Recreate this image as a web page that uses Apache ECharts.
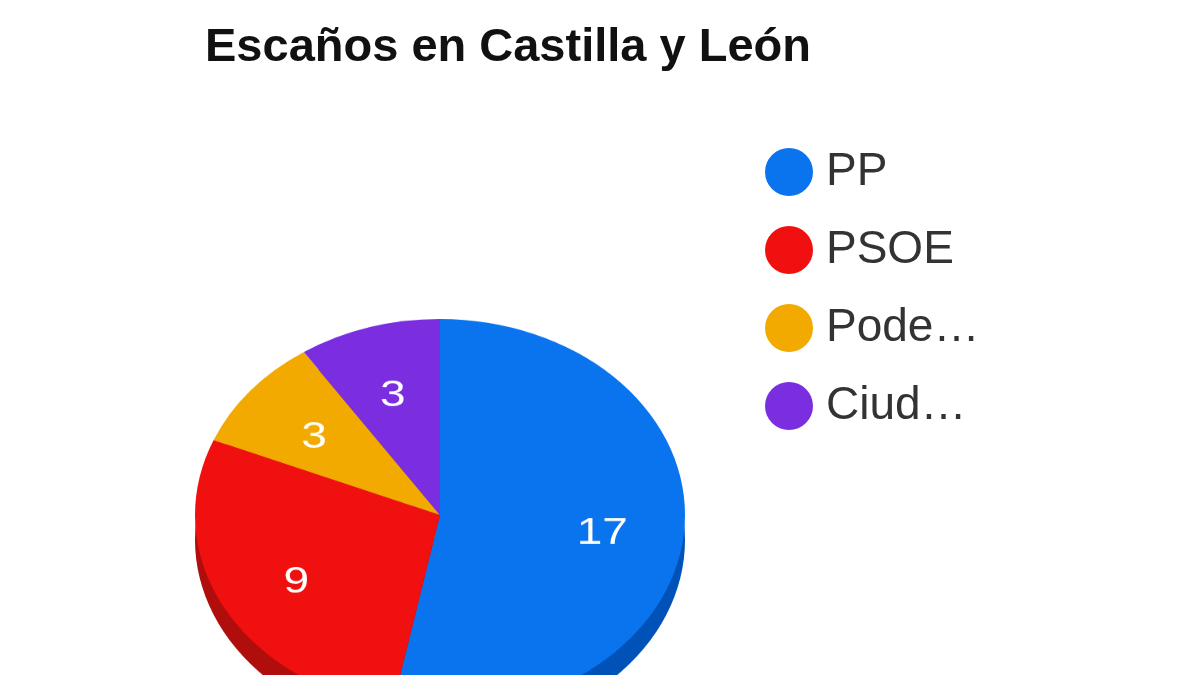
<!DOCTYPE html><html><head><meta charset="utf-8">
<script src="https://cdn.jsdelivr.net/npm/echarts@6/dist/echarts.min.js"></script>
<style>body{margin:0;background:#fff;overflow:hidden}#a{position:absolute;left:0;top:0;width:1200px;height:675px}#b{position:absolute;left:0;top:0;width:1200px;height:900px;transform:scaleY(0.8);transform-origin:440px 515px}</style>
</head><body><div id="b"></div><div id="a"></div>
<script>
const categories=['PP','PSOE','Podemos','Ciudadanos'];
const shortNames=['PP','PSOE','Pode…','Ciud…'];
const seats=[17,9,3,3];
const colors=['#0a74ee','#f01010','#f2a900','#7a2ee0'];
const sideColors=['#0052b8','#b00d0d','#b87f00','#5a1fb0'];
const data=categories.map((c,i)=>({name:c,value:seats[i],itemStyle:{color:colors[i]}}));
const side=categories.map((c,i)=>({name:c,value:seats[i],itemStyle:{color:sideColors[i]}}));
const ghost=categories.map((c,i)=>({name:c,value:seats[i],itemStyle:{color:'transparent'}}));
const A=echarts.init(document.getElementById('a'));
A.setOption({
 title:{text:'Escaños en Castilla y León',left:200,top:20,textStyle:{fontFamily:'Liberation Sans',fontWeight:'bold',fontSize:47,color:'#111'}},
 legend:{orient:'vertical',left:760,top:143,icon:'circle',itemWidth:48,itemHeight:48,itemGap:30,
  textStyle:{fontFamily:'Liberation Sans',fontSize:46,color:'#333',padding:[0,0,0,8]},
  formatter:n=>shortNames[categories.indexOf(n)],data:categories},
 series:[{type:'pie',radius:0,center:[-100,-100],data:data,label:{show:false},silent:true}]
});
const B=echarts.init(document.getElementById('b'));
B.setOption({
 series:[
  {type:'pie',radius:245,center:[440,546],data:side,label:{show:false},silent:true,animation:false,z:1},
  {type:'pie',radius:245,center:[440,515],data:data,animation:false,z:2,label:{show:false}},
  {type:'pie',radius:320,center:[440,522],data:ghost,animation:false,silent:true,z:3,
   label:{show:true,position:'inside',formatter:'{c}',color:'#fff',fontFamily:'Liberation Sans',fontSize:46},labelLine:{show:false}}
 ]});
</script></body></html>
